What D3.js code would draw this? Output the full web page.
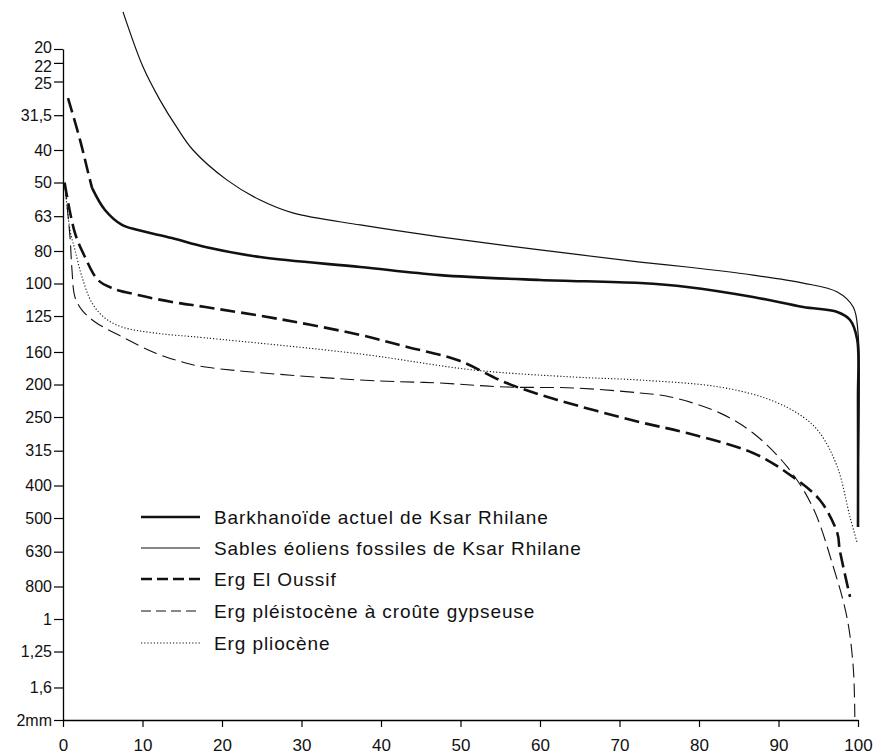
<!DOCTYPE html>
<html>
<head>
<meta charset="utf-8">
<script src="https://cdn.jsdelivr.net/npm/d3@7"></script>
<style>
  html, body { margin: 0; padding: 0; background: #fff; }
  svg { display: block; }
  text { font-family: "Liberation Sans", Arial, Helvetica, sans-serif; fill: #111; }
</style>
</head>
<body>
<svg id="chart" width="878" height="755"></svg>
<script>
// ---------- DATA ----------
// grain size (µm) as a function of cumulative percentage
const xTickValues = [0, 10, 20, 30, 40, 50, 60, 70, 80, 90, 100];
const yTickValues = [20, 22, 25, 31.5, 40, 50, 63, 80, 100, 125, 160, 200, 250, 315, 400, 500, 630, 800, 1000, 1250, 1600, 2000];
const yTickLabels = ["20", "22", "25", "31,5", "40", "50", "63", "80", "100", "125", "160", "200", "250", "315", "400", "500", "630", "800", "1", "1,25", "1,6", "2mm"];

const seriesNames = [
  "Barkhanoïde actuel de Ksar Rhilane",
  "Sables éoliens fossiles de Ksar Rhilane",
  "Erg El Oussif",
  "Erg pléistocène à croûte gypseuse",
  "Erg pliocène"
];

// [percent, size µm]
const barkhanoideExtrap = [[0.63, 28.0], [2.14, 37.3], [3.14, 46.5], [3.65, 51.9]];
const barkhanoide = [
  [3.65, 51.9], [5.28, 60.4], [7.42, 66.9], [9.43, 69.3], [13.7, 73.2], [17.9, 77.8],
  [24.8, 83.4], [37.4, 89.3], [47.4, 94.4], [60.0, 97.6], [72.6, 99.7], [78.5, 102.4],
  [86.8, 109.7], [93.1, 117.5], [97.4, 121.6], [99.0, 128.5], [99.9, 147], [100, 222], [100, 532]
];
const sables = [
  [7.55, 15.5], [10.06, 22.6], [12.2, 28.4], [14.3, 34.2], [16.35, 40.0], [20.6, 49.1],
  [24.8, 56.4], [28.9, 61.6], [37.4, 66.9], [47.4, 72.6], [60.0, 79.4], [72.6, 86.3],
  [78.5, 89.3], [86.8, 94.4], [93.1, 99.7], [97.4, 106], [99.4, 117.5], [100, 140], [100, 385]
];
const elOussif = [
  [0.2, 50], [1.5, 70.7], [2.77, 83.4], [4.4, 97.6], [6.16, 103.2], [9.43, 108.2],
  [13.7, 113.5], [17.9, 117.5], [27.5, 128], [37.4, 142.4], [43.3, 154.6], [49.6, 169],
  [55.8, 198], [62.1, 222], [72.6, 259], [78.5, 279], [86.8, 320], [91.1, 367],
  [95.2, 442], [97.4, 555], [97.7, 622], [99.0, 859]
];
const pleistocene = [
  [0.25, 51], [0.88, 72.6], [1.13, 91.1], [1.5, 109.7], [2.39, 120], [4.03, 130.2],
  [7.42, 144.2], [11.6, 161], [15.0, 171.4], [17.9, 177.4], [37.4, 194], [47.4, 198],
  [55.8, 203.5], [64.2, 204.8], [72.6, 212], [76.4, 217.8], [82.6, 243], [86.8, 279],
  [91.1, 352], [94.3, 464], [96.9, 700], [98.6, 986], [99.4, 1390], [99.6, 1958]
];
const pliocene = [
  [0.25, 51], [0.88, 69.3], [1.5, 79.4], [2.39, 95.6], [3.65, 114.3], [5.28, 126.8],
  [7.42, 134.8], [11.6, 140.5], [17.9, 145.2], [37.4, 162.2], [51.6, 181], [64.2, 190],
  [72.6, 194], [82.6, 203.5], [88.9, 222], [93.1, 250], [95.2, 279], [97.4, 352],
  [99.0, 497], [99.9, 593]
];

// ---------- DRAW ----------
const svg = d3.select("#chart");
const x = d3.scaleLinear().domain([0, 100]).range([63, 858]);
const y = d3.scaleLog().domain([20, 2000]).range([49, 720]);

const styles = [
  { w: 2.6, dash: null },
  { w: 1.2, dash: null },
  { w: 2.6, dash: "15,6" },
  { w: 1.1, dash: "14,6" },
  { w: 1.1, dash: "1.2,2" }
];

const line = d3.line()
  .x(d => x(d[0]))
  .y(d => y(d[1]))
  .curve(d3.curveCatmullRom.alpha(0.5));

const seriesData = [barkhanoide, sables, elOussif, pleistocene, pliocene];

const g = svg.append("g");
seriesData.forEach((data, i) => {
  g.append("path")
    .attr("d", line(data))
    .attr("fill", "none")
    .attr("stroke", "#111")
    .attr("stroke-width", styles[i].w)
    .attr("stroke-dasharray", styles[i].dash)
    .attr("stroke-linejoin", "round");
});
// extrapolated start of the Barkhanoïde curve (dashed)
g.append("path")
  .attr("d", line(barkhanoideExtrap))
  .attr("fill", "none")
  .attr("stroke", "#111")
  .attr("stroke-width", 2.6)
  .attr("stroke-dasharray", "15,6");

// axes
const yAxis = d3.axisLeft(y)
  .tickValues(yTickValues)
  .tickFormat((d, i) => yTickLabels[i])
  .tickSize(9)
  .tickSizeOuter(0)
  .tickPadding(2);
const gy = svg.append("g").attr("transform", `translate(${x(0)},0)`).call(yAxis);
gy.selectAll("text").style("font-size", "16px");
// small vertical nudges of the crowded top labels, as in the original
const labelNudge = { 20: -2, 22: 3, 25: 1 };
gy.selectAll(".tick text").attr("dy", d => (labelNudge[d] ? `calc(0.32em + ${labelNudge[d]}px)` : "0.32em"));
gy.selectAll(".tick").filter(d => labelNudge[d]).select("text")
  .attr("dy", null)
  .attr("y", d => labelNudge[d])
  .attr("dominant-baseline", "central");
gy.select(".domain").attr("stroke-width", 1.3);
gy.selectAll(".tick line").attr("stroke-width", 1.2);

const xAxis = d3.axisBottom(x)
  .tickValues(xTickValues)
  .tickSize(7)
  .tickSizeOuter(0)
  .tickPadding(12);
const gx = svg.append("g").attr("transform", `translate(0,${y(2000)})`).call(xAxis);
gx.selectAll("text").style("font-size", "17px");
gx.select(".domain").attr("stroke-width", 1.3);
gx.selectAll(".tick line").attr("stroke-width", 1.2);

// legend
const legendY = [517, 548, 579, 611, 643];
const lg = svg.append("g");
seriesNames.forEach((name, i) => {
  lg.append("line")
    .attr("x1", 141).attr("x2", 200)
    .attr("y1", legendY[i]).attr("y2", legendY[i])
    .attr("stroke", "#111")
    .attr("stroke-width", styles[i].w)
    .attr("stroke-dasharray", i === 2 ? "11,5" : i === 3 ? "10,5" : styles[i].dash);
  lg.append("text")
    .attr("x", 214)
    .attr("y", legendY[i] + 7)
    .style("font-size", "19px")
    .style("letter-spacing", "0.9px")
    .text(name);
});
</script>
</body>
</html>
